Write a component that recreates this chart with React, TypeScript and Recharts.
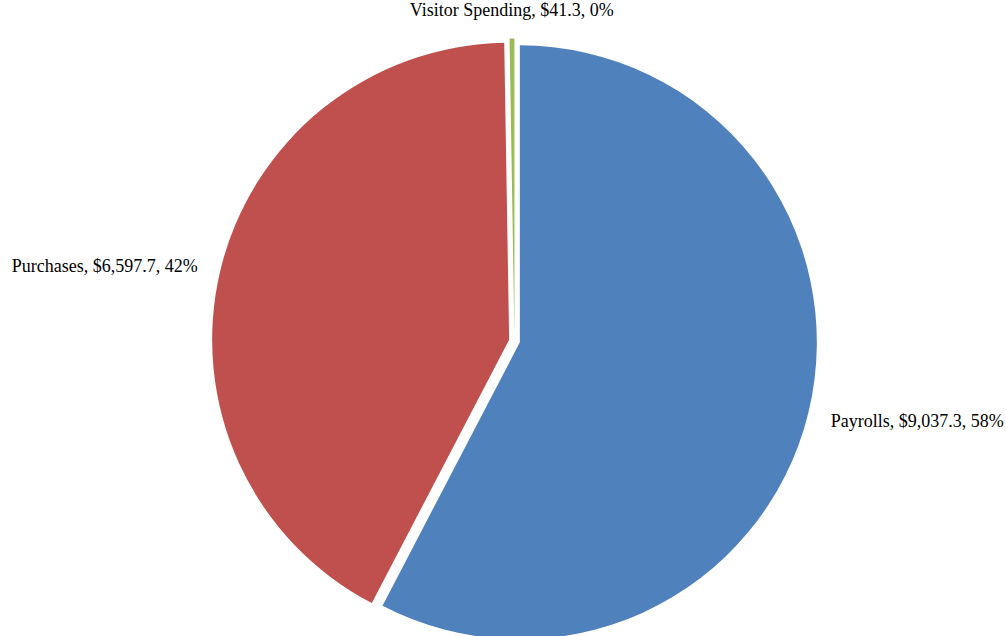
import React from 'react';
import { PieChart, Pie, Cell } from 'recharts';

const categories = ['Payrolls', 'Purchases', 'Visitor Spending'];
const values = [9037.3, 6597.7, 41.3];
const colors = ['#4F81BD', '#C0504D', '#9BBB59'];

const data = categories.map((name, i) => ({ name, value: values[i] }));
const total = values.reduce((a, b) => a + b, 0);

const W = 1006;
const H = 636;
const CX = 514.5;
const CY = 341;
const R = 297;
const EXPLODE = 5.5;
const START = 90;
const END = -270;
const FONT = '"Liberation Serif", "Times New Roman", serif';

function midAngleOf(i: number): number {
  const before = values.slice(0, i).reduce((a, b) => a + b, 0);
  const frac = (before + values[i] / 2) / total;
  return START + (END - START) * frac;
}

function fmtMoney(v: number): string {
  return '$' + v.toLocaleString('en-US', { minimumFractionDigits: 1, maximumFractionDigits: 1 });
}

const makeLabel = (target: number) => (props: any) => {
  if (props.index !== target) return null;
  const { cx, cy, midAngle, outerRadius } = props;
  const rad = (-midAngle * Math.PI) / 180;
  const dx = Math.cos(rad);
  const dy = Math.sin(rad);
  const r = outerRadius + 23;
  const x = cx + r * dx;
  const y = cy + r * dy;
  const anchor = dx > 0.1 ? 'start' : dx < -0.1 ? 'end' : 'middle';
  const pct = Math.round((values[target] / total) * 100);
  return (
    <text
      key={`lbl-${target}`}
      x={x}
      y={y + (14 * (1 + dy)) / 2}
      textAnchor={anchor}
      fill="#000"
      fontSize={18}
      fontFamily={FONT}
    >
      {`${categories[target]}, ${fmtMoney(values[target])}, ${pct}%`}
    </text>
  );
};

export default function App() {
  return (
    <div style={{ position: 'absolute', left: 0, top: 0, width: W, height: H, background: '#fff' }}>
      <PieChart width={W} height={H} margin={{ top: 0, right: 0, bottom: 0, left: 0 }}>
        {categories.map((cat, target) => {
          const m = midAngleOf(target);
          const rad = (-m * Math.PI) / 180;
          const ox = EXPLODE * Math.cos(rad);
          const oy = EXPLODE * Math.sin(rad);
          return (
            <Pie
              key={cat}
              data={data}
              dataKey="value"
              nameKey="name"
              cx={CX + ox}
              cy={CY + oy}
              innerRadius={0}
              outerRadius={R}
              startAngle={START}
              endAngle={END}
              paddingAngle={0}
              isAnimationActive={false}
              labelLine={false}
              label={makeLabel(target)}
              stroke="none"
            >
              {data.map((d, i) => (
                <Cell key={d.name} fill={i === target ? colors[i] : 'transparent'} stroke="none" />
              ))}
            </Pie>
          );
        })}
      </PieChart>
    </div>
  );
}
